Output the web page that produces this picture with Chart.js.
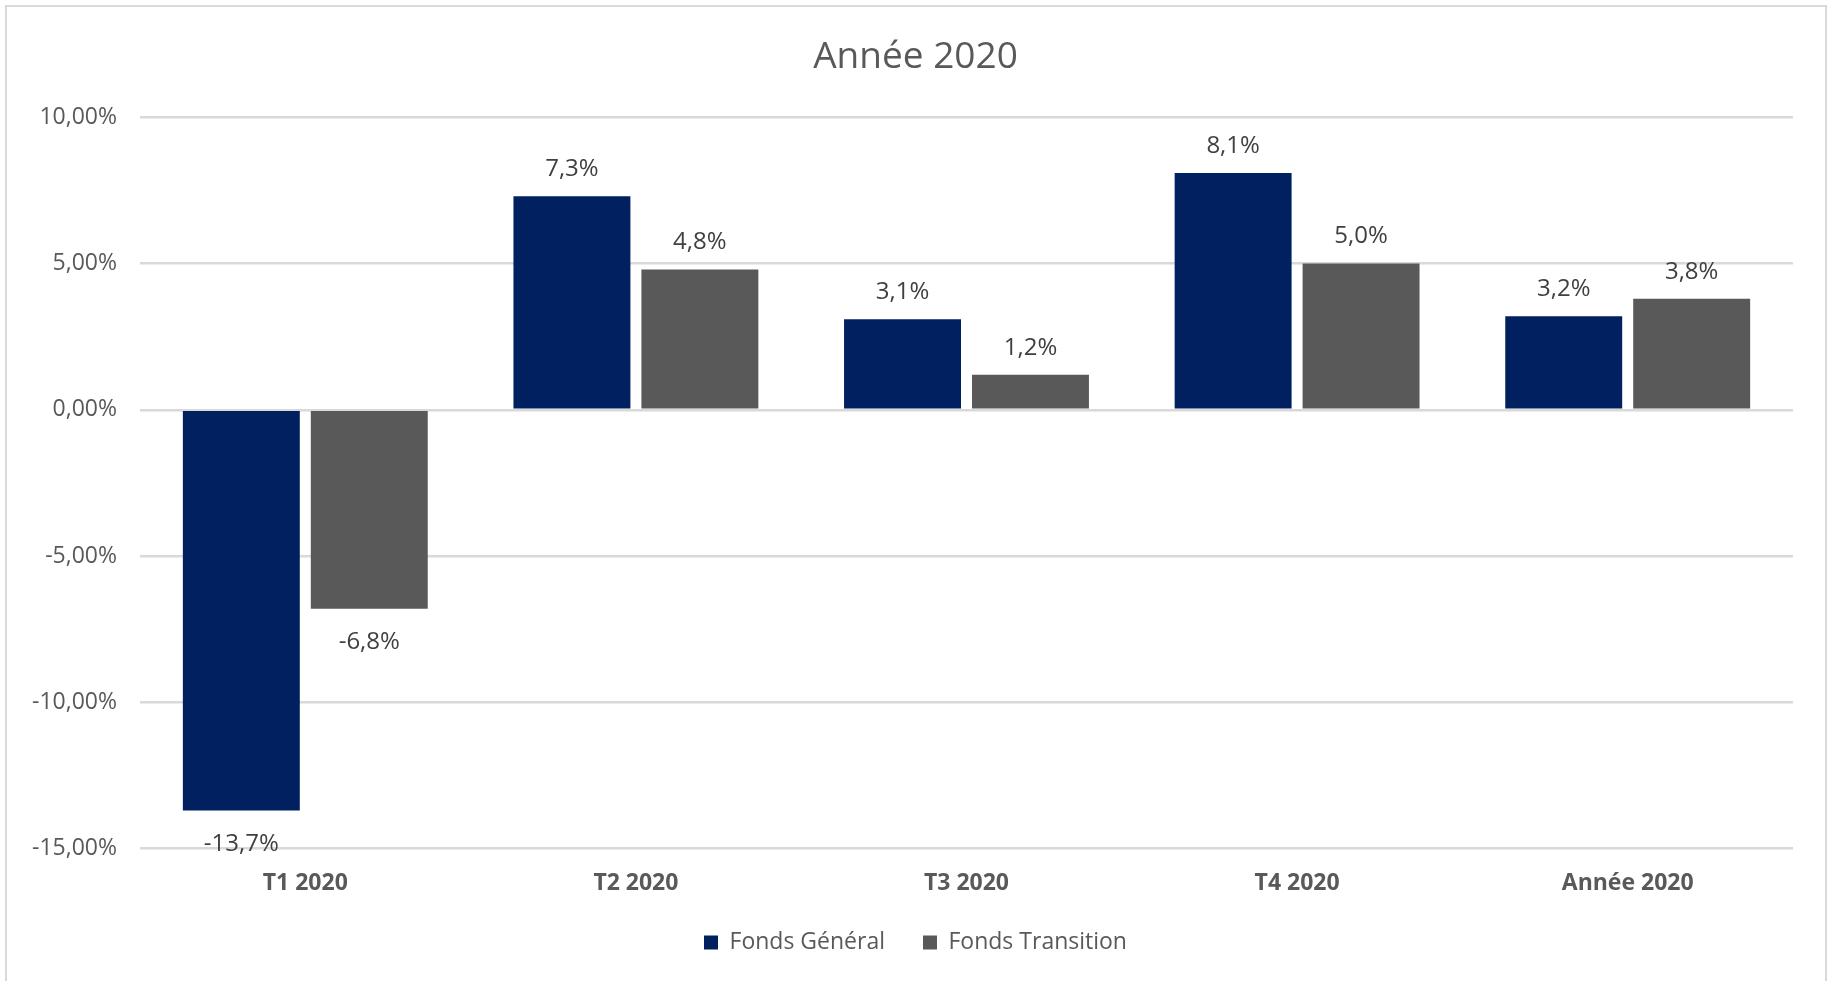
<!DOCTYPE html>
<html lang="fr">
<head>
  <meta charset="UTF-8">
  <title>Année 2020</title>
  <script src="https://cdn.jsdelivr.net/npm/chart.js"></script>
</head>

<style>
  body {
    margin: 0;
    background: #ffffff;
    overflow: hidden;
  }
  .frame {
    position: absolute;
    left: 5px;
    top: 5px;
    width: 1818px;
    height: 1100px;
    border: 2px solid #d9d9d9;
  }
  #myChart {
    position: absolute;
    left: 0;
    top: 0;
  }
</style>

<body>
  <div class="frame"></div>
  <canvas id="myChart" width="1831" height="981"></canvas>
</body>

<script>
  // valeurs
  const periodes = ['T1 2020', 'T2 2020', 'T3 2020', 'T4 2020', 'Année 2020']
  const fondsGeneral = [-13.7, 7.3, 3.1, 8.1, 3.2]
  const fondsTransition = [-6.8, 4.8, 1.2, 5.0, 3.8]
  const yTicks = [-15, -10, -5, 0, 5, 10]

  const police = "'Open Sans', 'Noto Sans', sans-serif"

  // étiquettes de valeurs au bout des barres
  const etiquettes = {
    id: 'etiquettes',
    afterLayout(chart) {
      // rapproche la légende des libellés d'axe
      chart.legend.top -= 17
      chart.legend.bottom -= 17
    },
    afterDatasetsDraw(chart) {
      const ctx = chart.ctx
      ctx.save()
      ctx.font = '24px ' + police
      ctx.fillStyle = '#404040'
      ctx.textAlign = 'center'
      ctx.textBaseline = 'middle'
      chart.data.datasets.forEach((ds, i) => {
        chart.getDatasetMeta(i).data.forEach((bar, j) => {
          const v = ds.data[j]
          const y = v >= 0 ? bar.y - 27 : bar.y + 34
          ctx.fillText(v.toFixed(1).replace('.', ',') + '%', bar.x, y)
        })
      })
      ctx.restore()
    }
  }

  new Chart(document.getElementById('myChart'), {
    type: 'bar',
    data: {
      labels: periodes,
      datasets: [{
        label: 'Fonds Général',
        data: fondsGeneral,
        backgroundColor: '#002060',
        borderWidth: 0
      }, {
        label: 'Fonds Transition',
        data: fondsTransition,
        backgroundColor: '#595959',
        borderWidth: 0
      }]
    },
    options: {
      responsive: false,
      animation: false,
      devicePixelRatio: 1,
      categoryPercentage: 0.774,
      barPercentage: 0.914,
      layout: {
        padding: { left: 0, right: 0, top: 0, bottom: 0 }
      },
      plugins: {
        title: {
          display: true,
          text: 'Année 2020',
          color: '#595959',
          font: { family: police, size: 37, weight: 'normal' },
          padding: { top: 35, bottom: 38 }
        },
        legend: {
          position: 'bottom',
          labels: {
            color: '#595959',
            font: { family: police, size: 23 },
            boxWidth: 14,
            boxHeight: 14,
            padding: 38
          }
        },
        tooltip: { enabled: false }
      },
      scales: {
        x: {
          grid: { display: false },
          border: { display: false },
          ticks: {
            color: '#595959',
            font: { family: police, size: 23, weight: 'bold' },
            padding: 13
          }
        },
        y: {
          min: yTicks[0],
          max: yTicks[yTicks.length - 1],
          afterBuildTicks(scale) {
            scale.ticks = yTicks.map(v => ({ value: v }))
          },
          afterFit(scale) {
            scale.width = 140
          },
          grid: { color: '#d9d9d9', lineWidth: 2.5, drawTicks: false },
          border: { display: false },
          ticks: {
            color: '#595959',
            font: { family: police, size: 23 },
            padding: 23,
            callback: v => v.toFixed(2).replace('.', ',') + '%'
          }
        },
        marge: {
          type: 'linear',
          position: 'right',
          grid: { display: false },
          border: { display: false },
          ticks: { display: false },
          afterFit(scale) {
            scale.width = 38
          }
        }
      }
    },
    plugins: [etiquettes]
  });
</script>

</html>
